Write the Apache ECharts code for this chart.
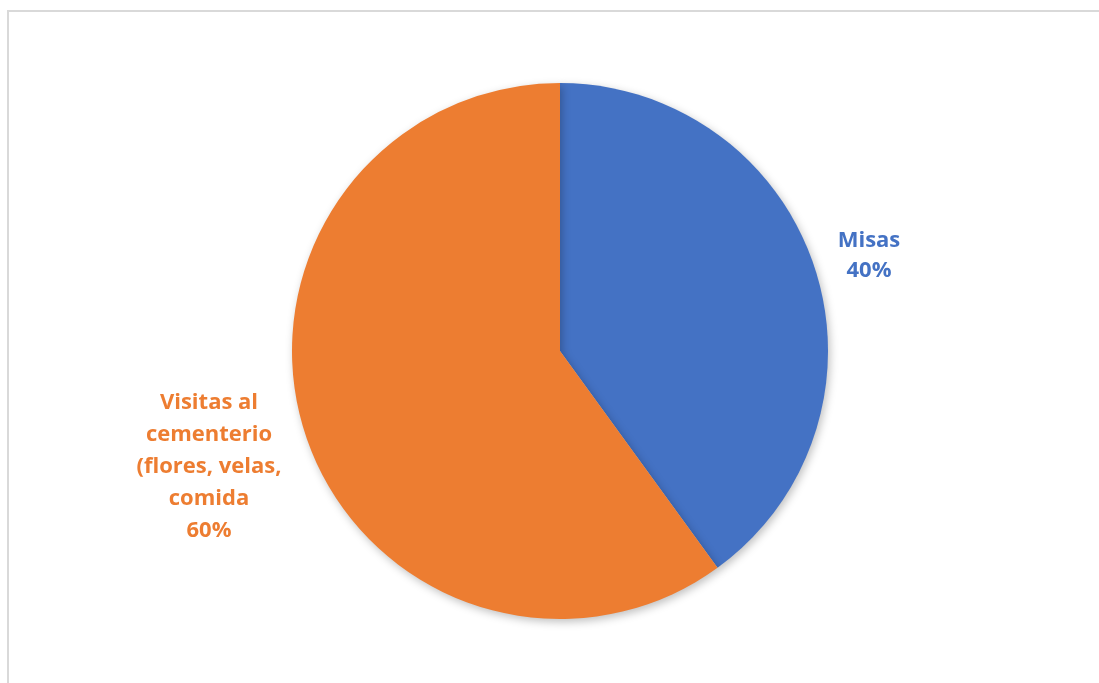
<!DOCTYPE html>
<html>
<head>
<meta charset="utf-8">
<script src="https://cdn.jsdelivr.net/npm/echarts@6/dist/echarts.min.js"></script>
<style>
  html, body { margin: 0; padding: 0; background: #ffffff; }
  #chart { width: 1099px; height: 683px; }
</style>
</head>
<body>
<div id="chart"></div>
<script>
// Categories and their shares (percent)
const categories = ['Misas', 'Visitas al\ncementerio\n(flores, velas,\ncomida'];
const values = [40, 60];
const colors = ['#4472C4', '#ED7D31'];

// Label anchor points (pixel centre of each label block) and line spacing
const labelAnchors = [[869, 256], [209, 467]];
const labelLineHeights = [30, 32];

const chart = echarts.init(document.getElementById('chart'), null, { renderer: 'canvas' });

chart.setOption({
  backgroundColor: '#ffffff',
  animation: false,
  graphic: [{
    // chart-area frame: left and top edges
    type: 'polyline',
    shape: { points: [[8, 700], [8, 11], [1110, 11]] },
    style: { fill: 'none', stroke: '#d9d9d9', lineWidth: 2 },
    silent: true
  }],
  series: [{
    type: 'pie',
    center: [560, 351],
    radius: 268,
    startAngle: 90,
    clockwise: true,
    data: categories.map((name, i) => ({
      name: name,
      value: values[i],
      itemStyle: { color: colors[i] },
      label: { color: colors[i], lineHeight: labelLineHeights[i] }
    })),
    itemStyle: {
      shadowBlur: 8,
      shadowOffsetX: 2,
      shadowOffsetY: 3,
      shadowColor: 'rgba(0,0,0,0.25)'
    },
    label: {
      show: true,
      position: 'outside',
      formatter: p => p.name + '\n' + p.percent + '%',
      fontFamily: 'Open Sans',
      fontWeight: 'bold',
      fontSize: 22,
      align: 'center'
    },
    labelLine: { show: false },
    labelLayout: params => {
      const a = labelAnchors[params.dataIndex];
      return { x: a[0], y: a[1], align: 'center', verticalAlign: 'middle' };
    },
    emphasis: { disabled: true }
  }]
});
</script>
</body>
</html>
